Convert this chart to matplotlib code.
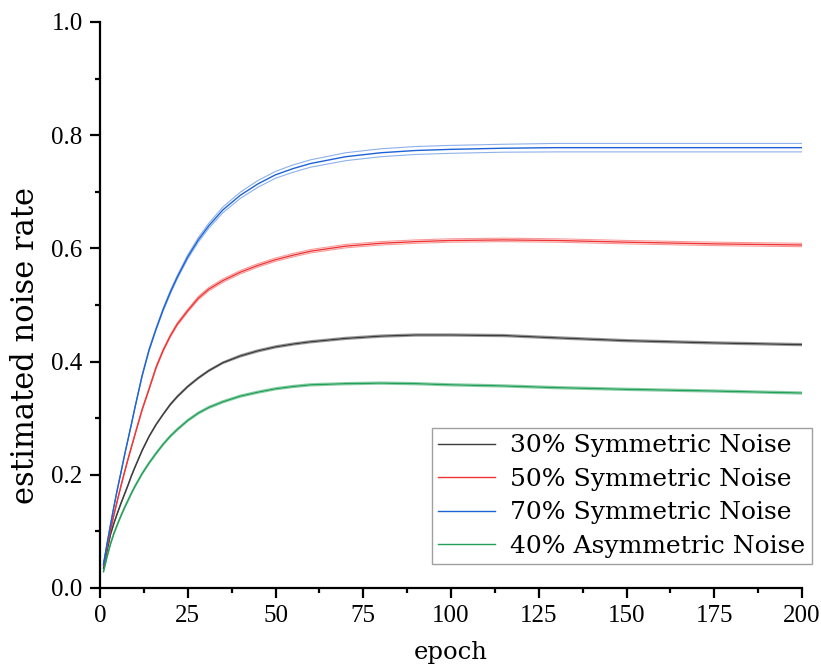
import numpy as np
import matplotlib
matplotlib.use("Agg")
import matplotlib.pyplot as plt
from matplotlib.ticker import MultipleLocator, FormatStrFormatter

# values
epochs = [1, 2, 3, 4, 5, 6, 7, 8, 9, 10, 12, 14, 16, 18, 20, 22, 25, 28, 31, 35,
          40, 45, 50, 55, 60, 70, 80, 90, 100, 115, 130, 150, 175, 200]

sym30 = [0.035, 0.066, 0.095, 0.115, 0.133, 0.150, 0.166, 0.182, 0.199, 0.214, 0.243, 0.268,
         0.289, 0.307, 0.324, 0.338, 0.356, 0.371, 0.384, 0.398, 0.410, 0.419, 0.426, 0.431,
         0.435, 0.441, 0.445, 0.447, 0.447, 0.446, 0.442, 0.437, 0.433, 0.430]
sym30_std = [0.001, 0.001, 0.001, 0.001, 0.001, 0.001, 0.001, 0.001, 0.001, 0.001, 0.001, 0.001,
             0.001, 0.001, 0.0015, 0.0015, 0.0015, 0.0015, 0.0015, 0.0015, 0.002, 0.002, 0.002,
             0.002, 0.002, 0.002, 0.002, 0.002, 0.002, 0.002, 0.002, 0.002, 0.002, 0.002]

sym50 = [0.040, 0.072, 0.103, 0.130, 0.156, 0.181, 0.205, 0.228, 0.250, 0.272, 0.315, 0.352,
         0.390, 0.420, 0.445, 0.466, 0.490, 0.512, 0.528, 0.543, 0.558, 0.570, 0.580, 0.588,
         0.595, 0.604, 0.609, 0.612, 0.614, 0.615, 0.614, 0.611, 0.608, 0.606]
sym50_std = [0.001, 0.001, 0.001, 0.001, 0.001, 0.001, 0.001, 0.001, 0.001, 0.001, 0.0015, 0.0015,
             0.002, 0.002, 0.002, 0.0025, 0.0025, 0.003, 0.003, 0.003, 0.003, 0.003, 0.003, 0.003,
             0.003, 0.003, 0.003, 0.003, 0.003, 0.003, 0.003, 0.003, 0.003, 0.003]

sym70 = [0.042, 0.078, 0.112, 0.145, 0.176, 0.205, 0.235, 0.263, 0.291, 0.320, 0.375, 0.421,
         0.458, 0.492, 0.522, 0.549, 0.585, 0.615, 0.640, 0.668, 0.694, 0.714, 0.730, 0.741,
         0.750, 0.762, 0.769, 0.773, 0.775, 0.777, 0.778, 0.778, 0.778, 0.778]
sym70_std = [0.001, 0.001, 0.001, 0.001, 0.001, 0.001, 0.001, 0.001, 0.001, 0.001, 0.0015, 0.002,
             0.002, 0.0025, 0.003, 0.003, 0.0035, 0.004, 0.0045, 0.005, 0.0055, 0.006, 0.006,
             0.0065, 0.0065, 0.007, 0.007, 0.007, 0.007, 0.007, 0.0075, 0.0075, 0.0075, 0.0075]

asym40 = [0.029, 0.055, 0.078, 0.097, 0.113, 0.128, 0.142, 0.155, 0.168, 0.180, 0.202, 0.221,
          0.238, 0.254, 0.268, 0.280, 0.296, 0.309, 0.319, 0.329, 0.339, 0.346, 0.352, 0.356,
          0.359, 0.361, 0.362, 0.361, 0.359, 0.357, 0.354, 0.351, 0.348, 0.3445]
asym40_std = [0.001, 0.0015, 0.002, 0.002, 0.002, 0.002, 0.002, 0.002, 0.002, 0.002, 0.002, 0.002,
              0.002, 0.002, 0.002, 0.002, 0.002, 0.002, 0.002, 0.002, 0.002, 0.002, 0.002, 0.002,
              0.002, 0.002, 0.002, 0.002, 0.002, 0.002, 0.002, 0.002, 0.002, 0.002]

labels = ["30% Symmetric Noise", "50% Symmetric Noise", "70% Symmetric Noise",
          "40% Asymmetric Noise"]
colors = ["#3c3c3c", "#f03434", "#1d63d6", "#22a058"]

plt.rcParams['font.family'] = ['DejaVu Serif']

fig = plt.figure(figsize=(8.21, 6.69), dpi=100)
ax = fig.add_axes([100 / 821, 81 / 669, 702 / 821, 566 / 669])

x = np.array(epochs)
series = [(sym30, sym30_std), (sym50, sym50_std), (sym70, sym70_std), (asym40, asym40_std)]
for (mean, std), lab, c in zip(series, labels, colors):
    mean = np.array(mean)
    std = np.array(std)
    ax.plot(x, mean + std, color=c, lw=0.8, alpha=0.5)
    ax.plot(x, mean - std, color=c, lw=0.8, alpha=0.5)
    ax.plot(x, mean, color=c, lw=1.0, label=lab)

ax.set_xlim(0, 200)
ax.set_ylim(0, 1.0)
ax.xaxis.set_major_locator(MultipleLocator(25))
ax.xaxis.set_minor_locator(MultipleLocator(12.5))
ax.yaxis.set_major_locator(MultipleLocator(0.2))
ax.yaxis.set_minor_locator(MultipleLocator(0.1))
ax.yaxis.set_major_formatter(FormatStrFormatter('%.1f'))

for s in ['top', 'right']:
    ax.spines[s].set_visible(False)
for s in ['left', 'bottom']:
    ax.spines[s].set_linewidth(1.6)

ax.tick_params(which='major', direction='out', length=7.5, width=1.6, pad=5)
ax.tick_params(which='minor', direction='out', length=3.8, width=1.6)
for lbl in ax.get_xticklabels() + ax.get_yticklabels():
    lbl.set_fontfamily('Liberation Serif')
    lbl.set_fontsize(18)

ax.set_xlabel("epoch", fontsize=17.5, va='top')
ax.xaxis.set_label_coords(0.5, -0.094)
ax.set_ylabel("estimated noise rate", fontsize=22)
ax.yaxis.set_label_coords(-0.084, 0.428)

leg = ax.legend(loc='lower right', bbox_to_anchor=(1.014, 0.042), fontsize=18,
                frameon=True, fancybox=False, edgecolor='#888888', borderaxespad=0,
                handlelength=2.3, labelspacing=0.42, handletextpad=0.6, borderpad=0.25)
leg.get_frame().set_linewidth(1.0)

fig.savefig("out.png", dpi=100)
